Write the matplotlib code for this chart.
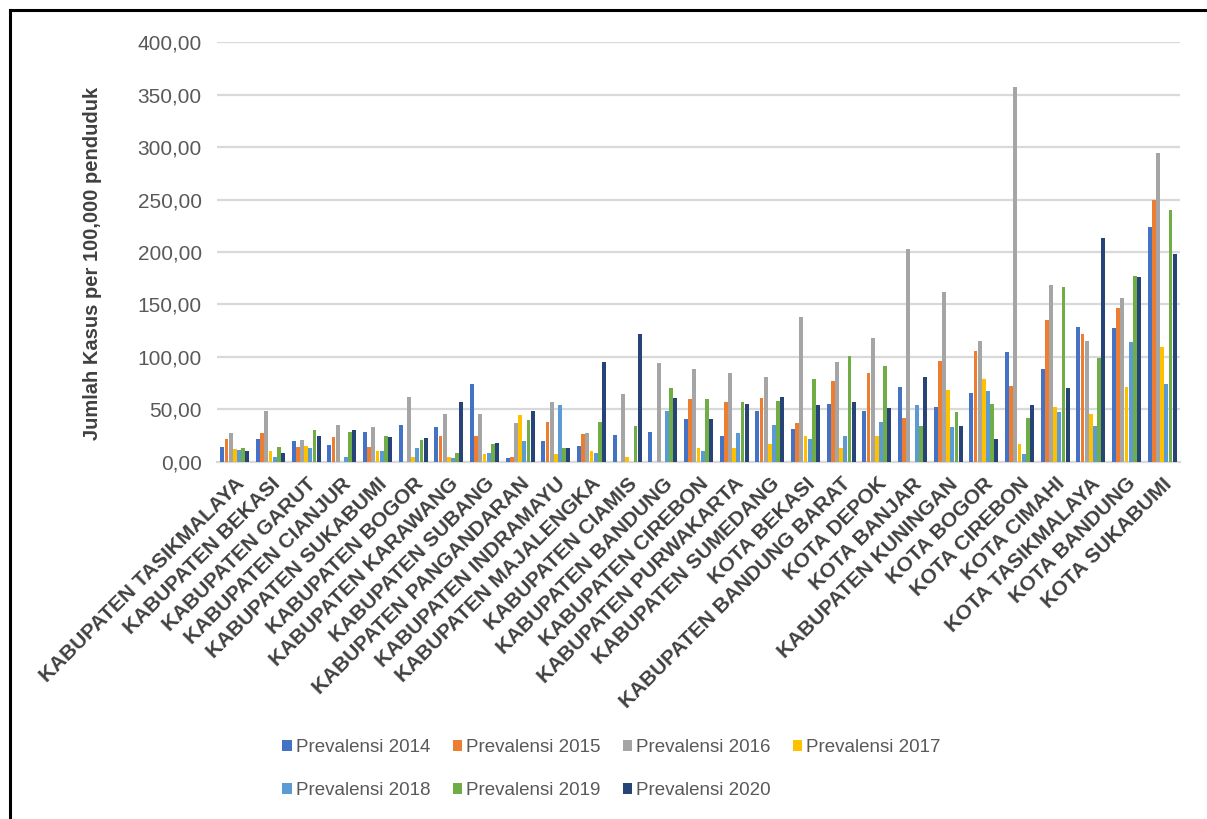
import numpy as np
import matplotlib.pyplot as plt
from matplotlib.patches import Patch
from matplotlib.ticker import FuncFormatter
from matplotlib.lines import Line2D

plt.rcParams['font.family'] = ['Liberation Sans', 'DejaVu Sans']

wilayah = ["KABUPATEN TASIKMALAYA", "KABUPATEN BEKASI", "KABUPATEN GARUT",
           "KABUPATEN CIANJUR", "KABUPATEN SUKABUMI", "KABUPATEN BOGOR",
           "KABUPATEN KARAWANG", "KABUPATEN SUBANG", "KABUPATEN PANGANDARAN",
           "KABUPATEN INDRAMAYU", "KABUPATEN MAJALENGKA", "KABUPATEN CIAMIS",
           "KABUPATEN BANDUNG", "KABUPATEN CIREBON", "KABUPATEN PURWAKARTA",
           "KABUPATEN SUMEDANG", "KOTA BEKASI", "KABUPATEN BANDUNG BARAT",
           "KOTA DEPOK", "KOTA BANJAR", "KABUPATEN KUNINGAN", "KOTA BOGOR",
           "KOTA CIREBON", "KOTA CIMAHI", "KOTA TASIKMALAYA", "KOTA BANDUNG",
           "KOTA SUKABUMI"]

p2014 = [14, 22, 19.4, 15.6, 28.6, 35, 33.4, 73.8, 3.5, 19.4, 15.3, 25.8, 28.6, 40.7,
         24.8, 48.6, 31.2, 55.3, 48.6, 71, 52.5, 65.8, 104.3, 88.4, 128.1, 127.2, 224.2]
p2015 = [22, 27, 14, 23.5, 14, 0, 24.5, 24.5, 4.8, 37.8, 26, 0, 0, 59.5,
         56.6, 60.4, 36.6, 76.5, 84.6, 42, 96.3, 105.6, 72.2, 135.1, 121.8, 146.9, 249.6]
p2016 = [27, 48.6, 20.3, 35.3, 32.7, 62, 45.8, 45.8, 36.6, 56.6, 27.3, 64.4, 93.8, 88.4,
         84.6, 80.4, 137.7, 95, 117.6, 202.5, 161.5, 114.8, 357.6, 168.2, 115.1, 156.1, 294.8]
p2017 = [12.4, 9.9, 15.3, 0, 9.9, 4.8, 4.8, 7.3, 44.5, 7.3, 10.2, 4.8, 0, 12.7,
         12.7, 16.9, 24.5, 12.6, 24.5, 0, 68.4, 78.9, 16.9, 52.5, 45.8, 70.9, 109.7]
p2018 = [11.4, 4.8, 12.7, 4.8, 9.9, 12.7, 3.5, 8.6, 19.4, 53.7, 8.6, 0, 48.5, 10.2,
         27.3, 35.3, 22, 24.4, 37.8, 53.8, 32.8, 67, 7.3, 47, 34, 113.8, 73.8]
p2019 = [12.7, 14, 29.9, 28.6, 24.5, 20.7, 8.6, 16.5, 39.4, 12.7, 37.8, 33.8, 69.8, 59.5,
         56.6, 57.9, 79.2, 100.5, 91, 33.7, 47, 55, 42, 166.9, 98.9, 177.4, 240]
p2020 = [9.9, 8.6, 24.5, 29.9, 23.2, 22.2, 56.6, 18.1, 48.6, 12.7, 94.8, 121.6, 60.4, 40.7,
         55.3, 62, 53.7, 56.6, 51.2, 80.4, 34, 21.8, 53.7, 70, 213.4, 176.2, 197.8]

series = [p2014, p2015, p2016, p2017, p2018, p2019, p2020]
labels = ["Prevalensi 2014", "Prevalensi 2015", "Prevalensi 2016", "Prevalensi 2017",
          "Prevalensi 2018", "Prevalensi 2019", "Prevalensi 2020"]
colors = ["#4472C4", "#ED7D31", "#A5A5A5", "#FFC000", "#5B9BD5", "#70AD47", "#264478"]

fig = plt.figure(figsize=(12.07, 8.19), dpi=100)
ax = fig.add_axes([0.1798, 0.4363, 0.7978, 0.5121])

x = np.arange(len(wilayah))
step = 0.117
for k, (vals, c) in enumerate(zip(series, colors)):
    ax.bar(x + (k - 3) * step, vals, width=0.108, color=c, zorder=3)

ax.set_xlim(-0.5, len(wilayah) - 0.5)
ax.set_ylim(0, 400)
ax.set_yticks(np.arange(0, 401, 50))
ax.yaxis.set_major_formatter(FuncFormatter(lambda v, p: f"{v:.2f}".replace(".", ",")))
ax.grid(axis='y', color='#D9D9D9', linewidth=1.6, zorder=0)
for s in ['top', 'right', 'left']:
    ax.spines[s].set_visible(False)
ax.spines['bottom'].set_color('#D9D9D9')
ax.spines['bottom'].set_linewidth(1.6)
ax.tick_params(axis='y', length=0, pad=11, labelsize=15, labelcolor='#595959')
ax.tick_params(axis='x', length=0, pad=9)
ax.set_xticks(x)
ax.set_xticklabels(wilayah, rotation=45, ha='right', va='top', rotation_mode='anchor',
                   fontsize=15, fontweight='bold', color='#404040')

fig.text(93 / 1207, 1 - 263 / 819, "Jumlah Kasus per 100,000 penduduk", rotation=90,
         ha='center', va='center', fontsize=14.5, fontweight='bold', color='#404040')

# legend entries ordered so that rows read 2014..2017 then 2018..2020
handles = [Patch(facecolor=c, edgecolor='none') for c in colors]
order = [0, 4, 1, 5, 2, 6, 3]
fig.legend([handles[i] for i in order], [labels[i] for i in order], ncol=4,
           loc='center', bbox_to_anchor=(0.5066, 0.061), frameon=False,
           fontsize=13.5, labelcolor='#595959', handlelength=0.5, handleheight=0.5,
           handletextpad=0.2, columnspacing=1.2, labelspacing=1.4)

# outer frame
fig.add_artist(Line2D([9.5 / 1207, 9.5 / 1207], [0, 1 - 9.5 / 819], color='black',
                      linewidth=2.2, transform=fig.transFigure))
fig.add_artist(Line2D([9.5 / 1207, 1], [1 - 9.5 / 819, 1 - 9.5 / 819], color='black',
                      linewidth=2.2, transform=fig.transFigure))

fig.savefig("out.png", dpi=100)
